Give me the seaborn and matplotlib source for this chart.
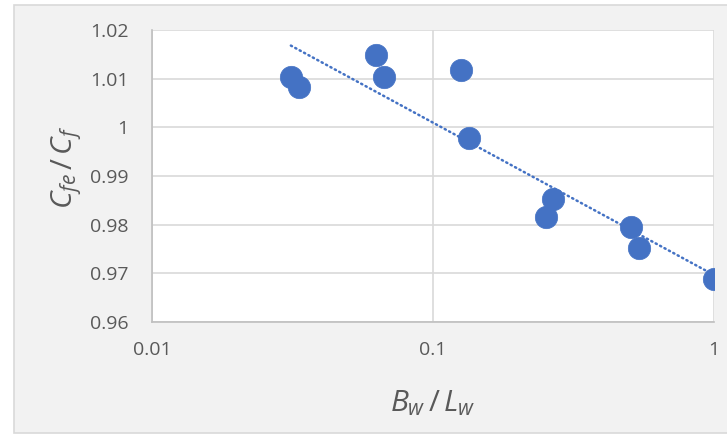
import numpy as np
import pandas as pd
import matplotlib
matplotlib.use("Agg")
import matplotlib.pyplot as plt
import seaborn as sns
from matplotlib.patches import Rectangle

# data
bw_lw = [0.0312, 0.0334, 0.0627, 0.0670, 0.1258, 0.1343, 0.2675, 0.2518, 0.5054, 0.5396, 1.0]
cfe_cf = [1.0103, 1.0083, 1.0149, 1.0103, 1.0118, 0.9978, 0.9853, 0.9815, 0.9795, 0.9752, 0.9689]
x_ticks = [0.01, 0.1, 1]
x_tick_labels = ["0.01", "0.1", "1"]
y_ticks = [0.96, 0.97, 0.98, 0.99, 1.00, 1.01, 1.02]
y_tick_labels = ["0.96", "0.97", "0.98", "0.99", "1", "1.01", "1.02"]

sns.set_theme(style="white")
plt.rcParams['font.family'] = ['Open Sans', 'DejaVu Sans']
plt.rcParams['mathtext.fontset'] = 'custom'
plt.rcParams['mathtext.it'] = 'Open Sans:italic'
plt.rcParams['mathtext.rm'] = 'Open Sans'

df = pd.DataFrame({"x": bw_lw, "y": cfe_cf})

# logarithmic trendline (least squares on ln x)
a, b = np.polyfit(np.log(df["x"]), df["y"], 1)
xt = np.geomspace(df["x"].min(), df["x"].max(), 100)
trend = pd.DataFrame({"x": xt, "y": a * np.log(xt) + b})

fig = plt.figure(figsize=(7.27, 4.34), dpi=100)
fig.patch.set_facecolor("white")
fig.patches.append(Rectangle((14 / 727, 0.002), 1.0, 1 - 5 / 434 - 0.002,
                             transform=fig.transFigure, facecolor="#F2F2F2",
                             edgecolor="#D9D9D9", linewidth=1.2, zorder=-10))
ax = fig.add_axes([152 / 727, 1 - 322 / 434, (714 - 152) / 727, (322 - 30) / 434])
ax.set_facecolor("white")

sns.scatterplot(data=df, x="x", y="y", ax=ax, s=260, color="#4472C4",
                edgecolor="#4472C4", linewidth=0.5, zorder=3)
sns.lineplot(data=trend, x="x", y="y", ax=ax, color="#4472C4", linewidth=1.8,
             linestyle=(0, (0.5, 1.5)), zorder=4, dash_capstyle="round")

ax.set_xscale("log")
ax.set_xlim(0.01, 1)
ax.set_ylim(0.96, 1.02)
ax.set_xticks(x_ticks)
ax.set_xticklabels(x_tick_labels)
ax.set_yticks(y_ticks)
ax.set_yticklabels(y_tick_labels)
ax.minorticks_off()
ax.tick_params(axis="both", length=0, labelsize=14, colors="#595959")
ax.tick_params(axis="x", pad=14)
ax.tick_params(axis="y", pad=17)
ax.grid(True, color="#D9D9D9", linewidth=1.2)
ax.set_axisbelow(True)
for side in ["top", "right"]:
    ax.spines[side].set_visible(False)
for side in ["left", "bottom"]:
    ax.spines[side].set_color("#BFBFBF")
    ax.spines[side].set_linewidth(1.2)

ax.set_xlabel(r"$B_w\,/\,L_w$", fontsize=21.5, color="#595959")
ax.set_ylabel(r"$C_{fe}\,/\,C_f$", fontsize=21.5, color="#595959")
ax.xaxis.set_label_coords(0.5, (322 - 388) / 292)
ax.yaxis.set_label_coords((84 - 152) / 562, (322 - 167) / 292)

fig.savefig("out.png", dpi=100)
